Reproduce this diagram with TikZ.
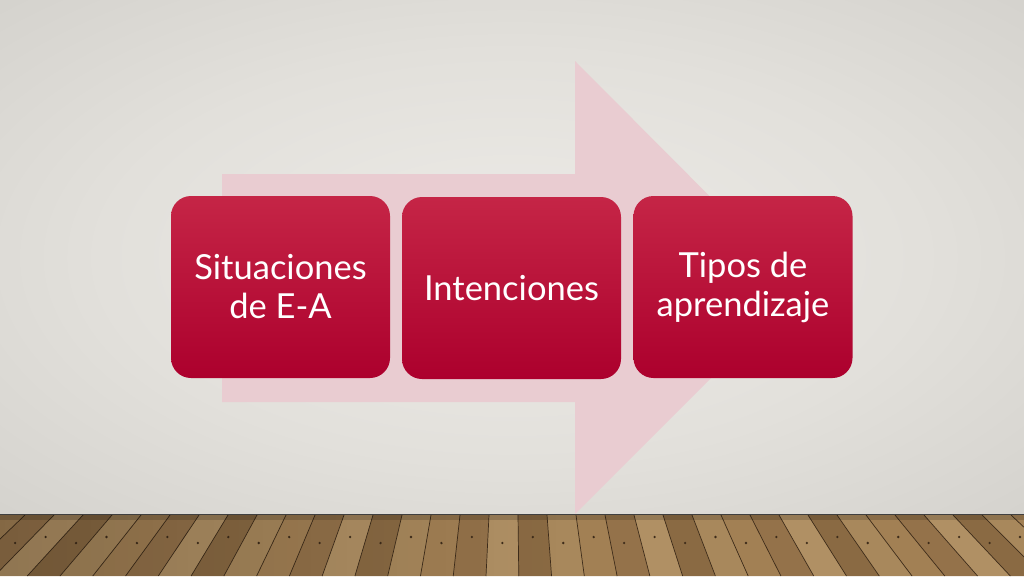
\documentclass[tikz,border=0pt]{standalone}
\usepackage{fontspec}
\setmainfont{Lato}
\usetikzlibrary{fadings}
\definecolor{wallA}{RGB}{237,235,231}
\definecolor{wallB}{RGB}{226,224,219}
\definecolor{wallC}{RGB}{200,198,193}
\definecolor{arrowpink}{RGB}{233,204,209}
\definecolor{boxtop}{RGB}{197,37,70}
\definecolor{boxbot}{RGB}{172,0,45}
\definecolor{wood0}{RGB}{162,128,84}
\definecolor{wood1}{RGB}{148,114,74}
\definecolor{wood2}{RGB}{176,144,100}
\definecolor{wood3}{RGB}{138,106,67}
\definecolor{wood4}{RGB}{168,136,92}
\definecolor{woodline}{RGB}{62,44,26}
\pgfdeclareradialshading{wallshade}{\pgfpoint{0bp}{0bp}}{color(0bp)=(wallA); color(20bp)=(wallB); color(50bp)=(wallC)}
\tikzset{
  stepbox/.style={rounded corners=20pt, minimum width=219pt, minimum height=182pt,
    top color=boxtop, bottom color=boxbot, draw=none, text=white,
    font=\fontsize{34.5}{39}\selectfont, align=center, inner sep=0pt},
  plank/.style={draw=woodline, line width=0.7pt},
  nail/.style={fill=woodline}
}
\begin{document}
\begin{tikzpicture}[x=1pt,y=-1pt]
\useasboundingbox (0,0) rectangle (1024,576);
% wall
\fill[shading=wallshade] (0,0) rectangle (1024,515);
% floor
\fill[wood0] (0,515) rectangle (1024,576);
\begin{scope}
\clip (0,515) rectangle (1024,576);
\foreach \i in {-24,...,23} {
  \pgfmathsetmacro{\xa}{512+29*\i+6}
  \pgfmathsetmacro{\xb}{512+29*(\i+1)+6}
  \pgfmathsetmacro{\xc}{512+(\xa-512)*1.13}
  \pgfmathsetmacro{\xd}{512+(\xb-512)*1.13}
  \pgfmathtruncatemacro{\c}{mod(\i+48,5)}
  \pgfmathsetmacro{\xm}{(\xa+\xb)/2+ (\xa-512)*0.05}
  \pgfmathtruncatemacro{\r}{mod(\i+48,2)}
  \fill[wood\c] (\xa,515) -- (\xb,515) -- (\xd,576) -- (\xc,576) -- cycle;
  \draw[plank] (\xa,515) -- (\xc,576);
  \fill[nail] (\xm,537+6*\r) circle (1.3);
}
\fill[black, opacity=0.15] (0,515) rectangle (1024,520);
\fill[black, opacity=0.18, path fading=east] (0,515) rectangle (560,576);
\end{scope}
\draw[line width=1.6pt, black!75] (0,514.5) -- (1024,514.5);
% big arrow
\fill[arrowpink] (222,174) -- (575,174) -- (575,61) -- (801,288) -- (575,514) -- (575,402) -- (222,402) -- cycle;
% boxes
\node[stepbox] (s1) at (280.5,287) {Situaciones\\de E-A};
\node[stepbox] (s2) at (511.5,288) {Intenciones};
\node[stepbox] (s3) at (743,287) {Tipos de\\aprendizaje};
\end{tikzpicture}
\end{document}
